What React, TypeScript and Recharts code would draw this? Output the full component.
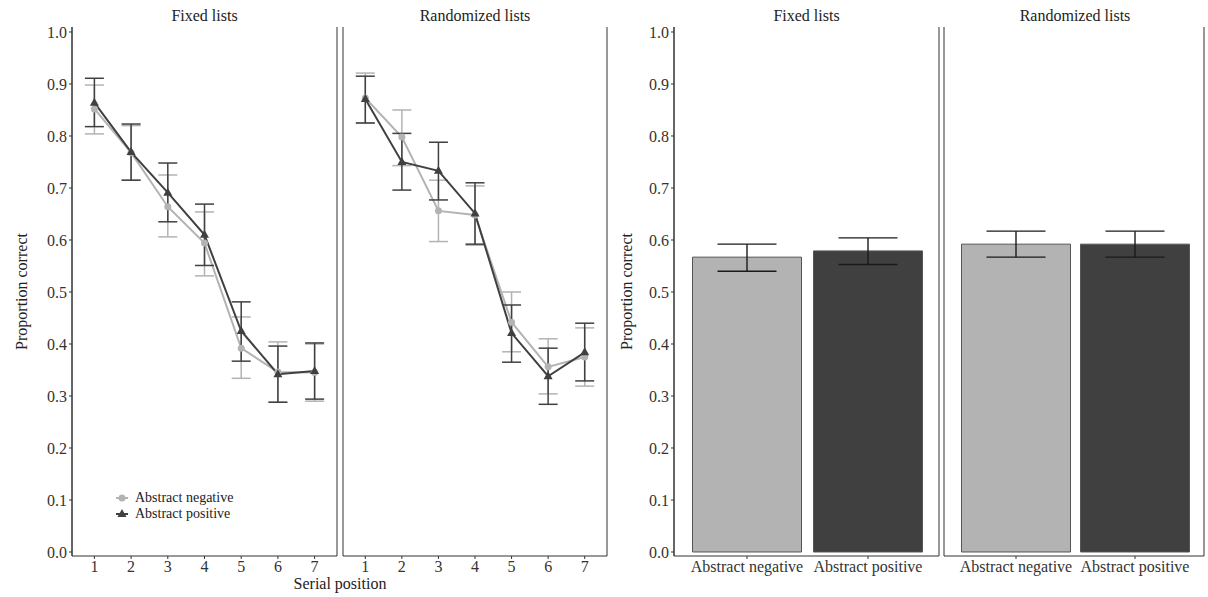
import React from 'react';
import { LineChart, Line, BarChart, Bar, Cell, XAxis, YAxis, ErrorBar, Legend, CartesianGrid } from 'recharts';

// serial position curves
const positions = [1, 2, 3, 4, 5, 6, 7];
const seriesNames = ['Abstract negative', 'Abstract positive'];
const panelTitles = ['Fixed lists', 'Randomized lists'];

const fixedNegMean = [0.852, 0.768, 0.664, 0.594, 0.392, 0.346, 0.345];
const fixedNegLo = [0.804, 0.715, 0.606, 0.531, 0.334, 0.288, 0.290];
const fixedNegHi = [0.898, 0.820, 0.725, 0.654, 0.452, 0.404, 0.400];

const fixedPosMean = [0.864, 0.769, 0.691, 0.610, 0.425, 0.342, 0.348];
const fixedPosLo = [0.818, 0.715, 0.635, 0.551, 0.367, 0.288, 0.294];
const fixedPosHi = [0.911, 0.823, 0.748, 0.669, 0.481, 0.396, 0.402];

const randNegMean = [0.873, 0.798, 0.656, 0.648, 0.442, 0.356, 0.375];
const randNegLo = [0.825, 0.743, 0.597, 0.590, 0.385, 0.304, 0.319];
const randNegHi = [0.921, 0.850, 0.715, 0.704, 0.500, 0.410, 0.431];

const randPosMean = [0.871, 0.750, 0.733, 0.651, 0.421, 0.338, 0.384];
const randPosLo = [0.825, 0.696, 0.677, 0.592, 0.365, 0.284, 0.329];
const randPosHi = [0.915, 0.805, 0.788, 0.710, 0.475, 0.392, 0.440];

// overall accuracy
const conditions = ['Abstract negative', 'Abstract positive'];
const fixedBarMean = [0.567, 0.579];
const fixedBarLo = [0.540, 0.553];
const fixedBarHi = [0.592, 0.604];
const randBarMean = [0.592, 0.592];
const randBarLo = [0.567, 0.567];
const randBarHi = [0.617, 0.617];

const yTicks = [0, 0.1, 0.2, 0.3, 0.4, 0.5, 0.6, 0.7, 0.8, 0.9, 1.0];

const FONT = '"Liberation Serif", "Times New Roman", serif';
const LIGHT = '#b3b3b3';
const DARK = '#404040';
const AXIS = '#333';
const Y_DOMAIN: [number, number] = [-0.0077, 1.0096];
const X_DOMAIN: [number, number] = [0.39, 7.61];
const tickStyle = { fill: '#333', fontSize: 16, fontFamily: FONT };

const lineRows = (nm: number[], nl: number[], nh: number[], pm: number[], pl: number[], ph: number[]) =>
  positions.map((p, i) => ({
    pos: p,
    neg: nm[i],
    negErr: [nm[i] - nl[i], nh[i] - nm[i]],
    posv: pm[i],
    posErr: [pm[i] - pl[i], ph[i] - pm[i]],
  }));

const barRows = (m: number[], lo: number[], hi: number[]) =>
  conditions.map((c, i) => ({ cond: c, mean: m[i], err: [m[i] - lo[i], hi[i] - m[i]] }));

const fixedLines = lineRows(fixedNegMean, fixedNegLo, fixedNegHi, fixedPosMean, fixedPosLo, fixedPosHi);
const randLines = lineRows(randNegMean, randNegLo, randNegHi, randPosMean, randPosLo, randPosHi);
const fixedBars = barRows(fixedBarMean, fixedBarLo, fixedBarHi);
const randBars = barRows(randBarMean, randBarLo, randBarHi);

// panel frame: left and right edges of the plot area
const frameEdges = ({ offset }: any) => [offset.left, offset.left + offset.width];

const Triangle = (props: any) => {
  const { cx, cy } = props;
  if (cx == null || cy == null) return null;
  return <polygon points={`${cx},${cy - 5} ${cx - 4.5},${cy + 3} ${cx + 4.5},${cy + 3}`} fill={DARK} />;
};

const LegendContent = ({ payload }: any) => (
  <div style={{ fontFamily: FONT, fontSize: 14, color: '#222', lineHeight: '16px' }}>
    {(payload || []).map((e: any) => (
      <div key={e.value} style={{ display: 'flex', alignItems: 'center', height: 16 }}>
        <svg width={14} height={14}>
          <line x1={1} x2={13} y1={7} y2={7} stroke={e.color} strokeWidth={2} />
          {e.value === seriesNames[0] ? (
            <circle cx={7} cy={7} r={3.5} fill={e.color} />
          ) : (
            <polygon points="7,2 2.5,10 11.5,10" fill={e.color} />
          )}
        </svg>
        <span style={{ marginLeft: 6, whiteSpace: 'nowrap' }}>{e.value}</span>
      </div>
    ))}
  </div>
);

const LinePanel = ({ data, first }: { data: any[]; first: boolean }) => (
  <LineChart
    width={first ? 340 : 270}
    height={597}
    data={data}
    margin={{ top: 27, right: 3, bottom: 0, left: first ? 0 : 3 }}
  >
    <CartesianGrid yAxisId="l" horizontal={false} stroke={AXIS} verticalCoordinatesGenerator={frameEdges} />
    <XAxis
      type="number"
      dataKey="pos"
      domain={X_DOMAIN}
      ticks={positions}
      allowDataOverflow
      height={41}
      tickSize={3}
      stroke={AXIS}
      tick={tickStyle}
    />
    <YAxis
      yAxisId="l"
      type="number"
      domain={Y_DOMAIN}
      ticks={yTicks}
      allowDataOverflow
      width={first ? 72 : 0}
      tickSize={3}
      stroke={AXIS}
      tick={first ? tickStyle : false}
      tickLine={first}
      tickFormatter={(v: number) => v.toFixed(1)}
      label={
        first
          ? { value: 'Proportion correct', angle: -90, position: 'insideLeft', offset: 21, style: { textAnchor: 'middle', fill: '#222', fontSize: 16, fontFamily: FONT } }
          : undefined
      }
    />
    <Line
      yAxisId="l"
      dataKey="neg"
      name={seriesNames[0]}
      stroke={LIGHT}
      strokeWidth={2}
      dot={{ r: 3.5, fill: LIGHT, stroke: 'none' }}
      isAnimationActive={false}
    >
      <ErrorBar dataKey="negErr" direction="y" width={9.5} stroke={LIGHT} strokeWidth={1.5} isAnimationActive={false} />
    </Line>
    <Line
      yAxisId="l"
      dataKey="posv"
      name={seriesNames[1]}
      stroke={DARK}
      strokeWidth={2}
      dot={(p: any) => <Triangle {...p} key={p.key} />}
      isAnimationActive={false}
    >
      <ErrorBar dataKey="posErr" direction="y" width={9.5} stroke={DARK} strokeWidth={1.5} isAnimationActive={false} />
    </Line>
    {first && (
      <Legend
        layout="vertical"
        align="center"
        verticalAlign="middle"
        content={<LegendContent />}
        wrapperStyle={{ left: 115, top: 490, width: 'auto' }}
      />
    )}
  </LineChart>
);

const BarPanel = ({ data, first }: { data: any[]; first: boolean }) => (
  <BarChart
    width={first ? 332 : 264}
    height={597}
    data={data}
    margin={{ top: 27, right: first ? 3 : 2, bottom: 0, left: first ? 0 : 2 }}
    barSize={109}
  >
    <CartesianGrid yAxisId="l" horizontal={false} stroke={AXIS} verticalCoordinatesGenerator={frameEdges} />
    <XAxis
      dataKey="cond"
      interval={0}
      padding={first ? { left: 12.5, right: 10.5 } : { left: 12.5, right: 9.5 }}
      height={41}
      tickSize={3}
      stroke={AXIS}
      tick={tickStyle}
    />
    <YAxis
      yAxisId="l"
      type="number"
      domain={Y_DOMAIN}
      ticks={yTicks}
      allowDataOverflow
      width={first ? 64 : 0}
      tickSize={3}
      stroke={AXIS}
      tick={first ? tickStyle : false}
      tickLine={first}
      tickFormatter={(v: number) => v.toFixed(1)}
      label={
        first
          ? { value: 'Proportion correct', angle: -90, position: 'insideLeft', offset: 16, style: { textAnchor: 'middle', fill: '#222', fontSize: 16, fontFamily: FONT } }
          : undefined
      }
    />
    <Bar yAxisId="l" dataKey="mean" stroke="#555" strokeWidth={1} isAnimationActive={false}>
      {data.map((d, i) => (
        <Cell key={d.cond} fill={i === 0 ? LIGHT : DARK} />
      ))}
      <ErrorBar dataKey="err" direction="y" width={29.5} stroke="#1a1a1a" strokeWidth={1.4} isAnimationActive={false} />
    </Bar>
  </BarChart>
);

const textStyle: React.CSSProperties = {
  position: 'absolute',
  fontFamily: FONT,
  fontSize: 16,
  color: '#222',
  lineHeight: '20px',
  textAlign: 'center',
  whiteSpace: 'nowrap',
};

const Title = ({ text, center, top }: { text: string; center: number; top: number }) => (
  <div style={{ ...textStyle, left: center - 100, width: 200, top }}>{text}</div>
);

export default function App() {
  return (
    <div style={{ position: 'absolute', left: 0, top: 0, width: 1208, height: 597, background: '#fff', overflow: 'hidden' }}>
      <div style={{ position: 'absolute', left: 0, top: 0 }}>
        <LinePanel data={fixedLines} first />
      </div>
      <div style={{ position: 'absolute', left: 340, top: 0 }}>
        <LinePanel data={randLines} first={false} />
      </div>
      <div style={{ position: 'absolute', left: 610, top: 0 }}>
        <BarPanel data={fixedBars} first />
      </div>
      <div style={{ position: 'absolute', left: 942, top: 0 }}>
        <BarPanel data={randBars} first={false} />
      </div>
      <Title text={panelTitles[0]} center={204.5} top={6} />
      <Title text={panelTitles[1]} center={475} top={6} />
      <Title text={panelTitles[0]} center={806.5} top={6} />
      <Title text={panelTitles[1]} center={1075} top={6} />
      <Title text="Serial position" center={340} top={574} />
    </div>
  );
}
